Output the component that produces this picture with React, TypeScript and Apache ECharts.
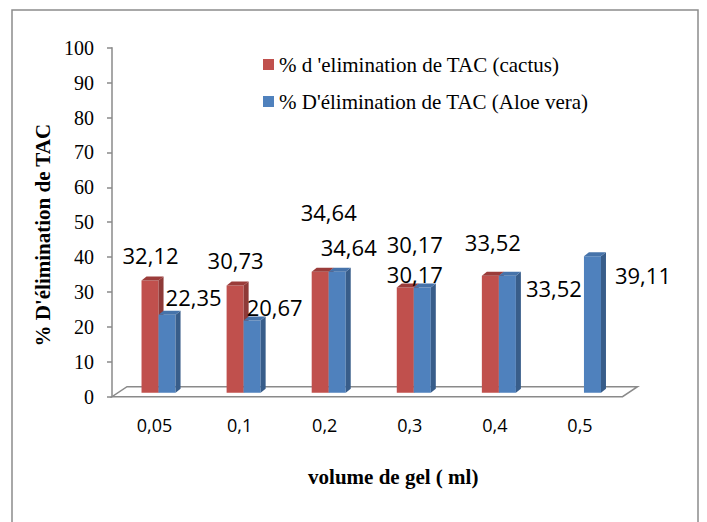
import React, { useEffect, useRef } from "react";
import * as echarts from "echarts";

const categories = ["0,05", "0,1", "0,2", "0,3", "0,4", "0,5"];
const cactus: (number | null)[] = [32.12, 30.73, 34.64, 30.17, 33.52, null];
const aloe: number[] = [22.35, 20.67, 34.64, 30.17, 33.52, 39.11];
const yTicks = { min: 0, max: 100, interval: 10 };
const seriesNames = [
  "% d 'elimination de TAC (cactus)",
  "% D'élimination de TAC (Aloe vera)",
];
// label offsets (px) from the top-centre of each bar's front face
const cactusLabelOffsets = [[0.5, -25.6], [0.5, -25.5], [8.5, -60], [9.5, -43.5], [2.5, -34], [0, 0]];
const aloeLabelOffsets = [[26.5, -18], [22.5, -14], [11.5, -25], [-7.5, -13.5], [46.5, 12.3], [50.5, 18.8]];

const SERIF = "Liberation Serif";
const fmt = (v: number) => v.toFixed(2).replace(".", ",");

function barRenderer(slot: number, front: string, side: string, top: string, offsets: number[][]) {
  return (params: any, api: any) => {
    const v = api.value(1);
    const idx = api.value(2);
    const p0 = api.coord([api.value(0), 0]);
    const p1 = api.coord([api.value(0), v]);
    const band = api.size([1, 0])[0];
    const w = band * 0.2;
    const dx = 4, dy = -4, dep = 5, dep2 = 4;
    const x0 = p0[0] - w + slot * w + dx;
    const yb = p0[1] + dy;
    const yt = p1[1] + dy;
    const o = offsets[idx] || [0, 0];
    return {
      type: "group",
      children: [
        { type: "rect", shape: { x: x0, y: yt, width: w, height: yb - yt }, style: { fill: front } },
        {
          type: "polygon",
          shape: { points: [[x0 + w, yt], [x0 + w + dep, yt - dep2], [x0 + w + dep, yb - dep2], [x0 + w, yb]] },
          style: { fill: side },
        },
        {
          type: "polygon",
          shape: { points: [[x0, yt], [x0 + dep, yt - dep2], [x0 + w + dep, yt - dep2], [x0 + w, yt]] },
          style: { fill: top },
        },
        {
          type: "text",
          x: x0 + w / 2 + o[0],
          y: yt + o[1],
          style: {
            text: fmt(v),
            fill: "#000",
            font: '22px "Open Sans"',
            lineHeight: 20,
            align: "center",
            verticalAlign: "middle",
            textAlign: "center",
            textVerticalAlign: "middle",
          },
        },
      ],
    };
  };
}

export default function App() {
  const ref = useRef<HTMLDivElement>(null);
  useEffect(() => {
    if (!ref.current) return;
    const chart = echarts.init(ref.current, null, { renderer: "svg" });
    const cactusData = cactus
      .map((v, i) => (v === null ? null : [i, v, i]))
      .filter((d) => d !== null);
    const aloeData = aloe.map((v, i) => [i, v, i]);
    const axisGray = "#8a8a8a";
    chart.setOption({
      animation: false,
      backgroundColor: "#fff",
      graphic: [
        {
          type: "rect",
          shape: { x: 12, y: 10, width: 686, height: 540 },
          style: { fill: "none", stroke: "#8c8c8c", lineWidth: 1.5 },
          z: 0,
        },
      ],
      grid: { left: 112, right: 84.5, top: 47.7, bottom: 125.3 },
      legend: {
        data: seriesNames,
        orient: "vertical",
        left: 258,
        top: 49,
        itemWidth: 11,
        itemHeight: 11,
        itemGap: 16,
        icon: "rect",
        textStyle: { fontFamily: SERIF, fontSize: 21, color: "#000" },
      },
      xAxis: {
        type: "category",
        data: categories,
        boundaryGap: true,
        axisLine: { show: false },
        axisTick: { show: false },
        axisLabel: { fontFamily: "Open Sans", fontSize: 18, color: "#000", margin: 19 },
        name: "volume de gel ( ml)",
        nameLocation: "middle",
        nameGap: 70,
        nameTextStyle: {
          fontFamily: SERIF,
          fontWeight: "bold",
          fontSize: 21,
          color: "#000",
          padding: [0, 0, 0, 52],
        },
      },
      yAxis: {
        type: "value",
        min: yTicks.min,
        max: yTicks.max,
        interval: yTicks.interval,
        axisLine: { show: true, lineStyle: { color: axisGray, width: 1.5 } },
        axisTick: { show: true, length: 5, lineStyle: { color: axisGray, width: 1.5 } },
        splitLine: { show: false },
        axisLabel: { fontFamily: SERIF, fontSize: 20, color: "#000", margin: 18 },
        name: "% D'élimination de TAC",
        nameLocation: "middle",
        nameRotate: 90,
        nameGap: 52,
        nameTextStyle: {
          fontFamily: SERIF,
          fontWeight: "bold",
          fontSize: 21,
          color: "#000",
          padding: [0, 26, 0, 0],
        },
      },
      series: [
        {
          type: "custom",
          name: "floor",
          silent: true,
          data: [[0, 0]],
          renderItem: (params: any) => {
            const cs = params.coordSys;
            const x = cs.x, yb = cs.y + cs.height, w = cs.width;
            return {
              type: "polygon",
              shape: { points: [[x, yb], [x + w, yb], [x + w + 15, yb - 10], [x + 15, yb - 10]] },
              style: { fill: "#fff", stroke: axisGray, lineWidth: 1.5 },
            };
          },
          z: 1,
        },
        {
          type: "custom",
          name: seriesNames[0],
          itemStyle: { color: "#C0504D" },
          data: cactusData,
          encode: { x: 0, y: 1 },
          renderItem: barRenderer(0, "#C0504D", "#8E3A38", "#9B3C3A", cactusLabelOffsets),
          z: 2,
        },
        {
          type: "custom",
          name: seriesNames[1],
          itemStyle: { color: "#4F81BD" },
          data: aloeData,
          encode: { x: 0, y: 1 },
          renderItem: barRenderer(1, "#4F81BD", "#385D8A", "#4673AA", aloeLabelOffsets),
          z: 3,
        },
      ],
    });
    return () => chart.dispose();
  }, []);
  return (
    <div
      ref={ref}
      style={{ position: "absolute", left: 0, top: 0, width: 707, height: 522 }}
    />
  );
}
